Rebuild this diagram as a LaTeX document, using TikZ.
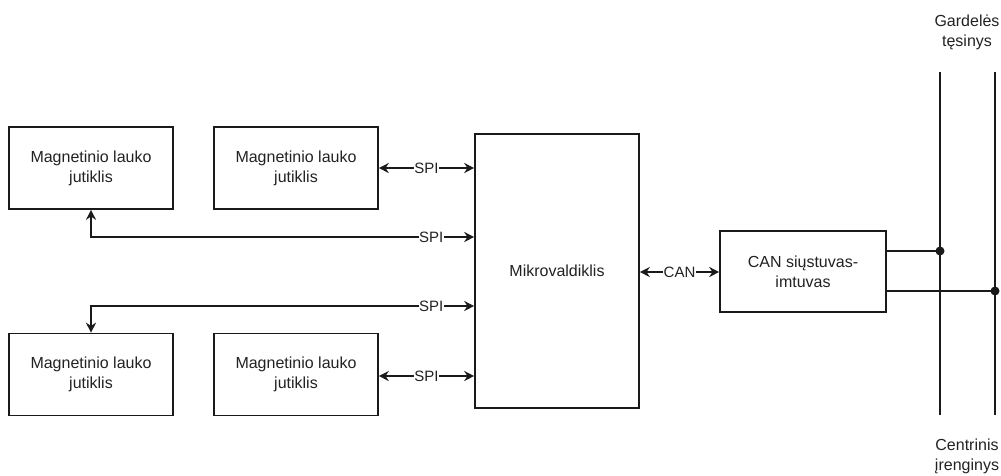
\documentclass[tikz,border=0pt]{standalone}
\usepackage{fontspec}
\setmainfont{Liberation Sans}
\usetikzlibrary{arrows.meta}
\definecolor{ln}{HTML}{1A1A1A}
\definecolor{tx}{HTML}{222222}
\begin{document}
\begin{tikzpicture}[x=1pt,y=-1pt,
  box/.style={draw=ln,line width=1.6pt,fill=white,minimum width=164pt,minimum height=82pt,inner sep=0pt,align=center,font=\fontsize{16}{20}\selectfont,text=tx},
  conn/.style={draw=ln,line width=1.6pt,{Stealth[length=10pt,width=10pt]}-{Stealth[length=10pt,width=10pt]}},
  lbl/.style={fill=white,inner sep=0.5pt,font=\fontsize{15}{18}\selectfont,text=tx},
  bus/.style={draw=ln,line width=1.6pt},
  dot/.style={circle,fill=ln,inner sep=0pt,minimum size=9pt},
  captext/.style={align=center,font=\fontsize{16}{20}\selectfont,text=tx}]
\useasboundingbox (0,0) rectangle (1001,475);
\node[box] (s1) at (91,168) {Magnetinio lauko\\jutiklis};
\node[box] (s2) at (296,168) {Magnetinio lauko\\jutiklis};
\node[box] (s3) at (91,374.5) {Magnetinio lauko\\jutiklis};
\node[box] (s4) at (296,374.5) {Magnetinio lauko\\jutiklis};
\node[box,minimum height=274pt] (mcu) at (557,271) {Mikrovaldiklis};
\node[box,minimum width=166pt,minimum height=81pt] (can) at (803,271.5) {CAN siųstuvas-\\imtuvas};
% SPI connectors
\draw[conn] (s2.east) -- (mcu.west |- s2.east) node[lbl,pos=0.5] {SPI};
\coordinate (m1) at (mcu.west |- 0,237);
\draw[conn] (s1.south) |- (m1) node[lbl,pos=0.944] {SPI};
\coordinate (m2) at (mcu.west |- 0,306);
\draw[conn] (s3.north) |- (m2) node[lbl,pos=0.944] {SPI};
\coordinate (m3) at (mcu.west |- 0,376);
\coordinate (s4e) at (s4.east |- 0,376);
\draw[conn] (s4e) -- (m3) node[lbl,pos=0.5] {SPI};
% CAN
\coordinate (mc) at (mcu.east |- 0,272);
\coordinate (cc) at (can.west |- 0,272);
\draw[conn] (mc) -- (cc) node[lbl,pos=0.5] {CAN};
% bus lines
\coordinate (b1t) at (940,72); \coordinate (b1b) at (940,415);
\coordinate (b2t) at (995,72); \coordinate (b2b) at (995,415);
\draw[bus] (b1t) -- (b1b);
\draw[bus] (b2t) -- (b2b);
\node[dot] (d1) at (940,251) {};
\node[dot] (d2) at (995,291) {};
\draw[bus] (can.east |- d1) -- (d1.center);
\draw[bus] (can.east |- d2) -- (d2.center);
\node[captext] (top) at (967,32) {Gardelės\\tęsinys};
\node[captext] (bot) at (967,456) {Centrinis\\įrenginys};
\end{tikzpicture}
\end{document}
